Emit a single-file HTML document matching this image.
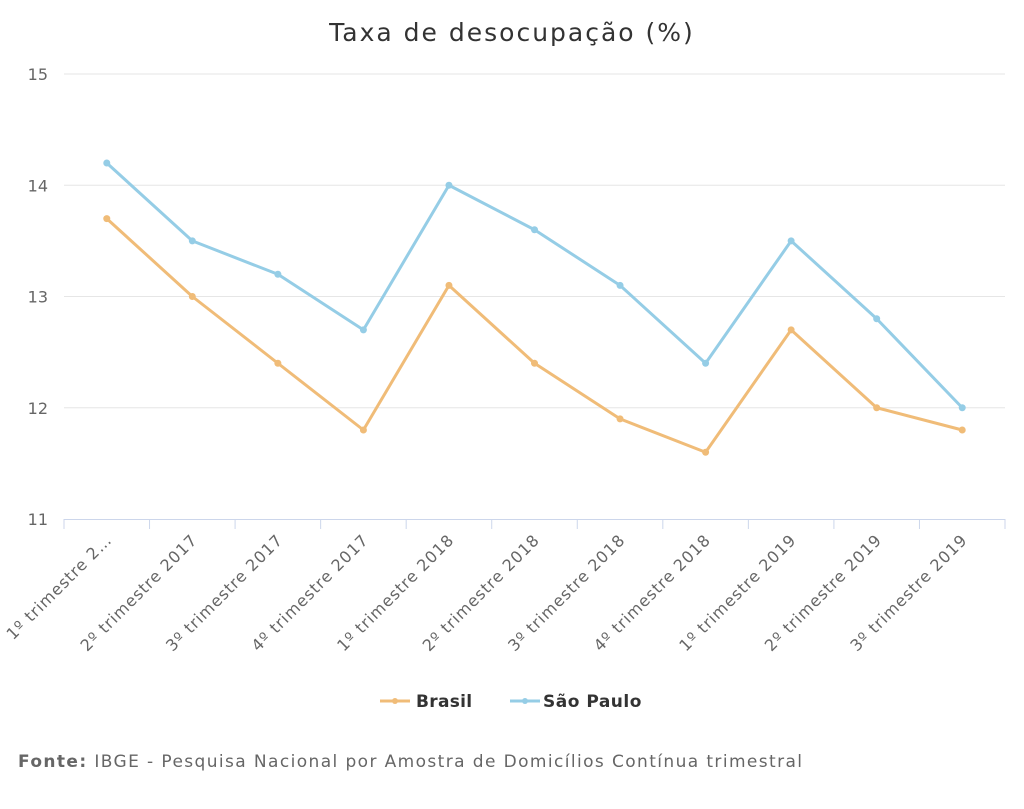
<!DOCTYPE html>
<html><head><meta charset="utf-8"><style>
body{margin:0;background:#fff;width:1024px;height:805px;overflow:hidden;font-family:"DejaVu Sans","Liberation Sans",sans-serif}
</style></head><body>
<svg id="chart" width="1024" height="805" xmlns="http://www.w3.org/2000/svg" font-family="DejaVu Sans, Liberation Sans, sans-serif">
<text x="512" y="41" text-anchor="middle" font-size="25" letter-spacing="2" fill="#333">Taxa de desocupação (%)</text>
<g id="grid"></g><g id="xaxis"></g><g id="series"></g>
<g>
<g><line x1="380" y1="701" x2="410" y2="701" stroke="#f0bc78" stroke-width="3"/><circle cx="395" cy="701" r="3" fill="#f0bc78"/><text x="416" y="707" font-size="17" font-weight="bold" letter-spacing="0.3" fill="#333">Brasil</text></g>
<g><line x1="510" y1="701" x2="540" y2="701" stroke="#95cde6" stroke-width="3"/><circle cx="525" cy="701" r="3" fill="#95cde6"/><text x="543" y="707" font-size="17" font-weight="bold" letter-spacing="0.5" fill="#333">São Paulo</text></g>
</g>
<text x="18" y="767" font-size="17" letter-spacing="1.4" fill="#666"><tspan font-weight="bold">Fonte:</tspan> IBGE - Pesquisa Nacional por Amostra de Domicílios Contínua trimestral</text>
</svg>
<script>
const categories=["1º trimestre 2…","2º trimestre 2017","3º trimestre 2017","4º trimestre 2017","1º trimestre 2018","2º trimestre 2018","3º trimestre 2018","4º trimestre 2018","1º trimestre 2019","2º trimestre 2019","3º trimestre 2019"];
const brasil=[13.7,13.0,12.4,11.8,13.1,12.4,11.9,11.6,12.7,12.0,11.8];
const saoPaulo=[14.2,13.5,13.2,12.7,14.0,13.6,13.1,12.4,13.5,12.8,12.0];
const yTicks=[11,12,13,14,15];
const NS="http://www.w3.org/2000/svg";
const L=64,R=1005,T=74,B=519;
const step=(R-L)/categories.length;
const x=i=>L+step*(i+0.5);
const y=v=>B-(v-11)/(15-11)*(B-T);
function mk(t,a,p){const e=document.createElementNS(NS,t);for(const k in a)e.setAttribute(k,a[k]);p.appendChild(e);return e;}
const grid=document.getElementById('grid');
yTicks.forEach(v=>{
 if(v>11){const g=mk('line',{x1:L,x2:R,y1:y(v),y2:y(v),stroke:'#e6e6e6'},grid);
 
 }
 const t=mk('text',{x:48,y:y(v)+6,'text-anchor':'end','font-size':'16',fill:'#666'},grid);t.textContent=v;
 
 
});
const xa=document.getElementById('xaxis');
const al=mk('line',{x1:L,x2:R,y1:B+0.5,y2:B+0.5,stroke:'#ccd6eb'},xa);


for(let i=0;i<=categories.length;i++){mk('line',{x1:L+step*i,x2:L+step*i,y1:B,y2:B+10,stroke:'#ccd6eb'},xa);}
categories.forEach((c,i)=>{
 const t=mk('text',{x:x(i)+6,y:B+22,'text-anchor':'end','font-size':'16','letter-spacing':'0.9',fill:'#666',transform:`rotate(-45 ${x(i)+6} ${B+22})`},xa);
 t.textContent=c;
 
 
});
const s=document.getElementById('series');
[[brasil,'#f0bc78','brasil'],[saoPaulo,'#95cde6','sao-paulo']].forEach(([d,col,n])=>{
 const p=mk('polyline',{points:d.map((v,i)=>x(i)+','+y(v)).join(' '),fill:'none',stroke:col,'stroke-width':3,'stroke-linejoin':'round'},s);
 
 
 d.forEach((v,i)=>{const c=mk('circle',{cx:x(i),cy:y(v),r:3.5,fill:col},s);
 
 });
});
</script>
</body></html>
